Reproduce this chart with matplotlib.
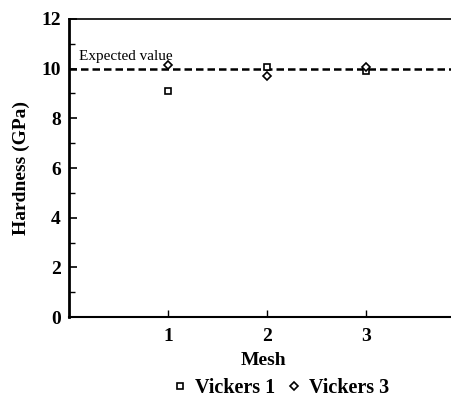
import matplotlib
matplotlib.use("Agg")
import matplotlib.pyplot as plt
from matplotlib.ticker import MultipleLocator

plt.rcParams["font.family"] = "Liberation Serif"

mesh = [1, 2, 3]
vickers1 = [9.1, 10.05, 9.9]
vickers3 = [10.15, 9.7, 10.05]
expected = 10.0

fig = plt.figure(figsize=(4.52, 4.01), dpi=100)
ax = fig.add_axes([0.153, 0.209, 0.86, 0.744])

ax.axhline(expected, color="black", lw=1.8, ls=(0, (3, 1.6)), zorder=1)
ax.plot(mesh, vickers1, ls="none", marker="s", ms=5, mfc="white", mec="black",
        mew=1.2, label="Vickers 1", zorder=3)
ax.plot(mesh, vickers3, ls="none", marker="D", ms=4.5, mfc="white", mec="black",
        mew=1.2, label="Vickers 3", zorder=3)
ax.text(0.1, 10.35, "Expected value", fontsize=11)

ax.set_xlim(0, 3.93)
ax.set_ylim(0, 12)
ax.set_xticks(mesh)
ax.yaxis.set_major_locator(MultipleLocator(2))
ax.yaxis.set_minor_locator(MultipleLocator(1))
ax.tick_params(axis="both", which="both", direction="in", labelsize=14)
ax.tick_params(axis="y", which="major", length=6, width=1.2, pad=6)
ax.tick_params(axis="y", which="minor", length=4, width=1.0)
ax.tick_params(axis="x", which="major", length=5, width=1.0, pad=8)
for lab in ax.get_xticklabels() + ax.get_yticklabels():
    lab.set_fontweight("bold")

ax.spines["left"].set_linewidth(2)
ax.spines["bottom"].set_linewidth(1.5)
ax.spines["top"].set_linewidth(1.2)
ax.spines["right"].set_visible(False)

ax.set_xlabel("Mesh", fontsize=14, fontweight="bold", labelpad=5)
ax.set_ylabel("Hardness (GPa)", fontsize=14, fontweight="bold", labelpad=8)

ax.legend(loc="upper center", bbox_to_anchor=(0.548, -0.142), ncol=2, frameon=False,
          prop={"weight": "bold", "size": 14.5}, handlelength=0.5, handletextpad=0.5,
          columnspacing=0.7, markerscale=0.85)

fig.savefig("out.png", dpi=100)
